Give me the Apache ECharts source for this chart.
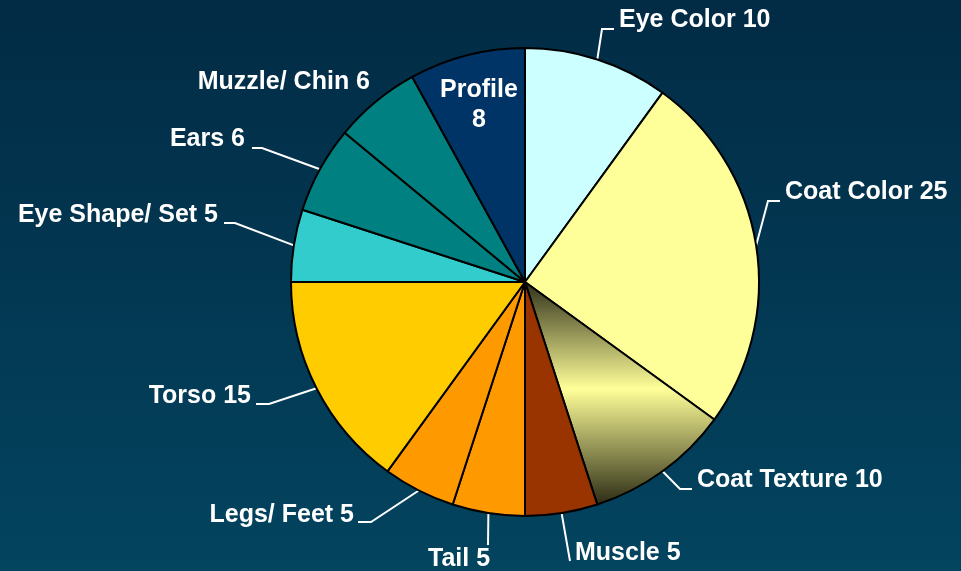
<!DOCTYPE html>
<html>
<head>
<meta charset="utf-8">
<title>Breed traits</title>
<script src="https://cdn.jsdelivr.net/npm/echarts@6/dist/echarts.min.js"></script>
<style>
    html, body { margin: 0; padding: 0; }
    #chart { width: 961px; height: 571px; }
</style>
</head>
<body>
<div id="chart"></div>
<script>
    // slices, clockwise from 12 o'clock
    const categories = ['Eye Color', 'Coat Color', 'Coat Texture', 'Muscle', 'Tail', 'Legs/ Feet',
        'Torso', 'Eye Shape/ Set', 'Ears', 'Muzzle/ Chin', 'Profile'];
    const values = [10, 25, 10, 5, 5, 5, 15, 5, 6, 6, 8];
    const colors = ['#ccffff', '#ffff99', null, '#993300', '#ff9900', '#ff9900',
        '#ffcc00', '#33cccc', '#008080', '#008080', '#003366'];

    // where each label sits: anchor, text align, end of the leader line and its hook
    const labelPlace = [
        {x: 619, y: 20, align: 'left', end: [614, 29], hook: 12},
        {x: 785, y: 192, align: 'left', end: [780, 201], hook: 12},
        {x: 697, y: 480, align: 'left', end: [692, 489], hook: 12},
        {x: 575, y: 553, align: 'left', end: [570, 561], hook: 0},
        {x: 459, y: 559, align: 'center', end: [488, 545], hook: 0},
        {x: 354, y: 515, align: 'right', end: [358, 522], hook: 13},
        {x: 251, y: 396, align: 'right', end: [256, 404], hook: 13},
        {x: 218, y: 215, align: 'right', end: [224, 223], hook: 11},
        {x: 245, y: 139, align: 'right', end: [252, 148], hook: 10},
        {x: 370, y: 82, align: 'right', end: null, hook: 0},
        {x: 479, y: 105, align: 'center', end: null, hook: 0}
    ];

    const chart = echarts.init(document.getElementById('chart'));

    const texture = new echarts.graphic.LinearGradient(0, 0, 0, 1, [
        {offset: 0, color: '#2e2e18'},
        {offset: 0.48, color: '#ffff99'},
        {offset: 1, color: '#2a2a14'}
    ]);

    const pieData = categories.map(function (name, i) {
        const item = {
            name: name,
            value: values[i],
            itemStyle: {color: colors[i] || texture}
        };
        if (name === 'Profile') {
            item.label = {position: 'inside', formatter: '{b}\n{c}', lineHeight: 30};
            item.labelLine = {show: false};
        } else if (name === 'Muzzle/ Chin') {
            item.labelLine = {show: false};
        }
        return item;
    });

    chart.setOption({
        backgroundColor: new echarts.graphic.LinearGradient(0, 0, 0, 1, [
            {offset: 0, color: '#022b45'},
            {offset: 1, color: '#03445f'}
        ]),
        animation: false,
        series: [
            {
                type: 'pie',
                center: [525, 282],
                radius: 234,
                startAngle: 90,
                clockwise: true,
                avoidLabelOverlap: false,
                itemStyle: {
                    borderColor: '#000',
                    borderWidth: 2
                },
                label: {
                    show: true,
                    formatter: '{b} {c}',
                    color: '#fff',
                    fontFamily: 'Liberation Sans, Arial, sans-serif',
                    fontWeight: 'bold',
                    fontSize: 25
                },
                labelLine: {
                    show: true,
                    length: 20,
                    length2: 10,
                    lineStyle: {color: '#fff', width: 2}
                },
                emphasis: {disabled: true},
                labelLayout: function (params) {
                    const p = labelPlace[params.dataIndex];
                    const out = {x: p.x, y: p.y, align: p.align, verticalAlign: 'middle'};
                    if (p.end && params.labelLinePoints) {
                        const dir = p.align === 'right' ? 1 : -1;
                        out.labelLinePoints = [
                            params.labelLinePoints[0],
                            [p.end[0] + dir * p.hook, p.end[1]],
                            p.end
                        ];
                    }
                    return out;
                },
                data: pieData
            }
        ]
    });
</script>
</body>
</html>
